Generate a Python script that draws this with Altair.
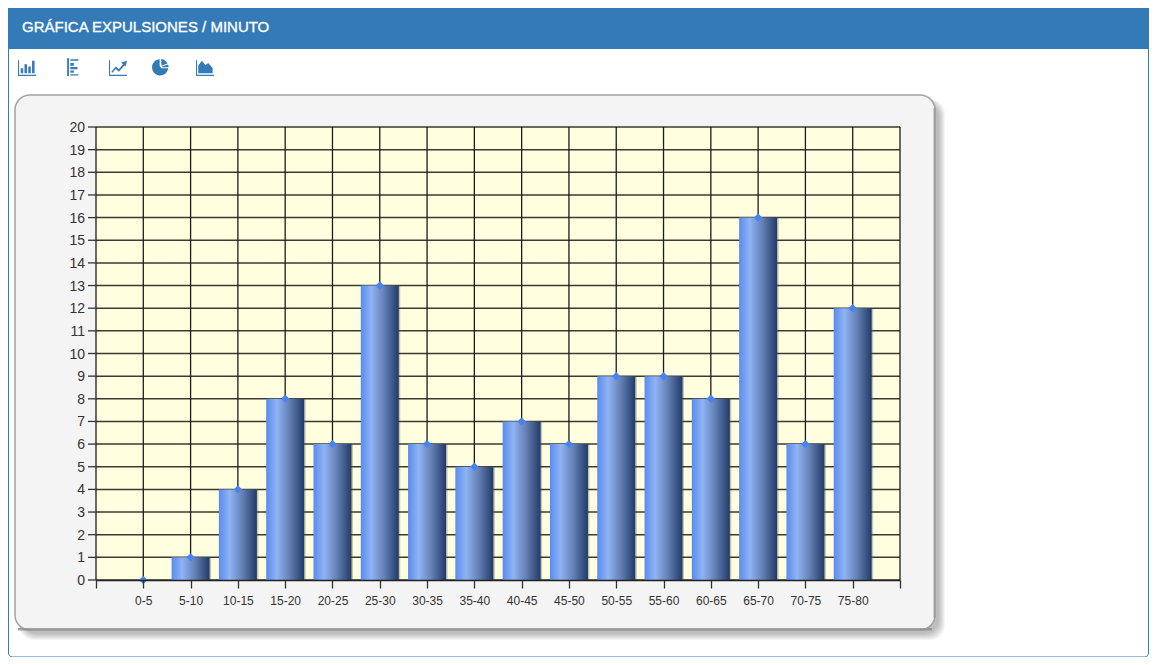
import altair as alt
import pandas as pd

categories = ["0-5", "5-10", "10-15", "15-20", "20-25", "25-30", "30-35", "35-40",
              "40-45", "45-50", "50-55", "55-60", "60-65", "65-70", "70-75", "75-80"]
values = [0, 1, 4, 8, 6, 13, 6, 5, 7, 6, 9, 9, 8, 16, 6, 12]
y_ticks = list(range(0, 21))
title_text = "GRÁFICA EXPULSIONES / MINUTO"

OX, OY = 96, 127
W, H = 804, 453
FONT = "Liberation Sans"
BLUE = "#337ab7"

one = alt.Data(values=[{"a": 1}])
df = pd.DataFrame({"cat": categories, "val": values})
ticks_df = pd.DataFrame({"v": y_ticks})
x_domain = [""] + categories + [" "]
xs = alt.Scale(type="point", domain=x_domain, padding=0)
ys = alt.Scale(domain=[0, 20], nice=False, zero=True)
x_axis = alt.Axis(
    orient="bottom", zindex=1, grid=False, labelAngle=0, labelAlign="center", labelFlush=False,
    labelOverlap=False, labelFont=FONT, labelFontSize=12,
    labelColor="#333333", labelPadding=7, tickSize=8, tickColor="#333333", tickWidth=1.3,
    domainColor="#222222", domainWidth=1.5)


def X(field):
    return alt.X(field, scale=xs, title=None, axis=x_axis)


def Y(field):
    return alt.Y(field, scale=ys, title=None, axis=None)


def box(x0, y0, x1, y1, **mark):
    return alt.Chart(one).mark_rect(**mark).encode(
        x=alt.value(x0 - OX), x2=alt.value(x1 - OX),
        y=alt.value(y0 - OY), y2=alt.value(y1 - OY))


def icon(cx, cy, path):
    return alt.Chart(one).mark_point(shape=path, filled=True, color=BLUE, opacity=1,
                                     strokeWidth=0, size=324).encode(
        x=alt.value(cx - OX), y=alt.value(cy - OY))


layers = []
# card and header
layers.append(box(8.5, 8.5, 1148.5, 657, fill="white", stroke=BLUE, strokeWidth=1, cornerRadius=4))
layers.append(box(8, 8, 1149, 49, fill=BLUE))
layers.append(alt.Chart(one).mark_text(text=title_text, font=FONT, fontSize=15, fontWeight=400,
                                       color="white", stroke="white", strokeWidth=0.35,
                                       align="left", baseline="middle").encode(
    x=alt.value(22 - OX), y=alt.value(27 - OY)))

# toolbar icons
layers.append(icon(27, 67, "M-1,-.75H-.88V.85H1V1H-1Z M-.7,.7V.15H-.42V.7Z M-.28,.7V-.3H0V.7Z M.14,.7V-.05H.42V.7Z M.56,.7V-.7H.84V.7Z"))
layers.append(icon(73, 67, "M-.65,-1H-.45V1H-.65Z M-.3,-.85H.6V-.7H-.3Z M-.3,-.45H.1V-.15H-.3Z M-.3,0H.5V.25H-.3Z M-.3,.4H.1V.65H-.3Z M-.3,.8H.6V.95H-.3Z"))
layers.append(icon(118, 67, "M-1,-.75H-.88V.85H1V1H-1Z M-.75,.55L-.25,-.05L.1,.25L.55,-.3L.35,-.5L1,-.7L.85,-.05L.7,-.18L.1,.52L-.25,.22L-.62,.65Z"))
layers.append(icon(161, 67, "M-.15,-.85A.9,.9 0 1 0 .8,.15L.05,.15L-.15,-.1Z M.02,-.9A.85,.85 0 0 1 .72,-.4L.05,-.15Z M.78,-.28A.85,.85 0 0 1 .85,.02L.18,.02L.1,-.05Z"))
layers.append(icon(205, 67, "M-1,-.75H-.88V.85H1V1H-1Z M-.75,.7V-.15L-.35,-.7L.05,-.2L.35,-.45L.85,.1V.7Z"))

# rounded chart panel with drop shadow
for i in range(7):
    layers.append(box(19 + i * 0.5, 99 + i * 0.5, 945 - i, 640 - i, fill="#000000", opacity=0.04, cornerRadius=15))
layers.append(box(15, 95, 935, 630, fill="#f4f4f4", stroke="#a3a3a3", strokeWidth=1.5, cornerRadius=15))
layers.append(box(18, 628, 932, 630.5, fill="#8f8f8f", opacity=0.8))
layers.append(box(933.5, 108, 935.5, 618, fill="#999999", opacity=0.8))

# plot background and grid
layers.append(box(OX, OY, OX + W, OY + H, fill="#ffffe0"))
layers.append(alt.Chart(ticks_df).mark_rule(color="#3a3a30", strokeWidth=1.5).encode(y=Y("v:Q")))
layers.append(alt.Chart(pd.DataFrame({"c": x_domain})).mark_rule(color="#1c1c1c", strokeWidth=1.3).encode(
    x=X("c:N")))

# y ticks and labels, one per unit
layers.append(alt.Chart(ticks_df).mark_rule(color="#333333", strokeWidth=1.3).encode(
    y=Y("v:Q"), x=alt.value(-8), x2=alt.value(0)))
layers.append(alt.Chart(ticks_df).mark_text(font=FONT, fontSize=14, color="#333333", align="right",
                                            baseline="middle", dy=1).encode(
    y=Y("v:Q"), x=alt.value(-11), text=alt.Text("v:Q")))

# bars
gradient = alt.LinearGradient(gradient="linear", x1=0, x2=1, y1=0, y2=0, stops=[
    alt.GradientStop(offset=0, color="#5a8cef"),
    alt.GradientStop(offset=0.28, color="#8fb3f4"),
    alt.GradientStop(offset=0.6, color="#6683b8"),
    alt.GradientStop(offset=1, color="#213a68")])
bars_df = df[df["val"] > 0]
layers.append(alt.Chart(bars_df).mark_bar(size=38, xOffset=1.5, color="#555555", opacity=0.35).encode(
    x=X("cat:N"), y=Y("val:Q")))
layers.append(alt.Chart(bars_df).mark_bar(size=38, color=gradient).encode(
    x=X("cat:N"), y=Y("val:Q")))
layers.append(alt.Chart(df).mark_point(shape="diamond", filled=True, color="#4a82ef", opacity=1, size=70).encode(
    x=X("cat:N"), y=Y("val:Q")))

chart = alt.layer(*layers).properties(
    width=W, height=H,
    autosize=alt.AutoSizeParams(type="none"),
    padding={"left": OX - 8, "top": OY - 8, "right": 1149 - OX - W, "bottom": 657 - OY - H},
    background="white",
).configure_view(stroke=None)

chart.save("out.html", embed_options={"renderer": "svg", "actions": False})
